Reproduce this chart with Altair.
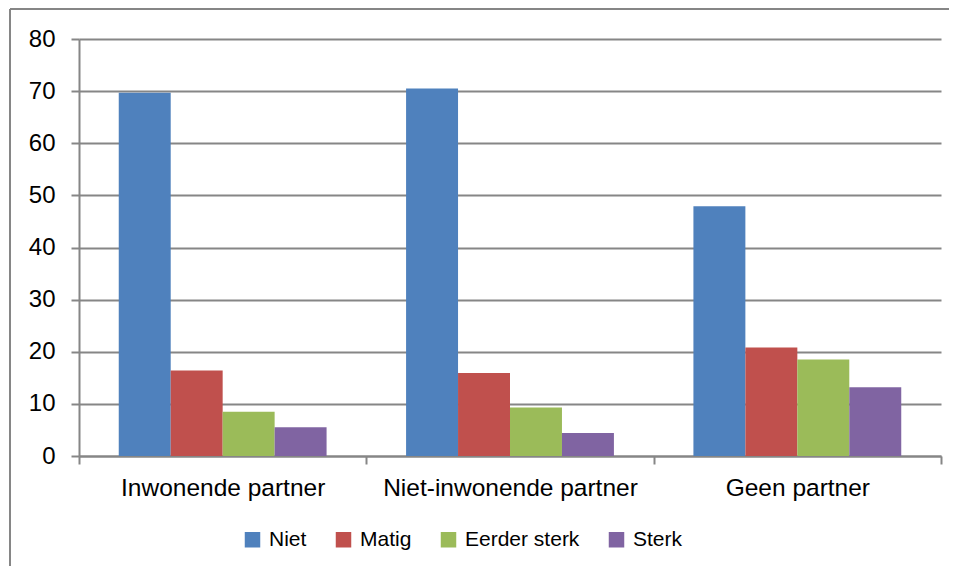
import altair as alt
import pandas as pd

groups = ["Inwonende partner", "Niet-inwonende partner", "Geen partner"]
levels = ["Niet", "Matig", "Eerder sterk", "Sterk"]
niet = [69.7, 70.5, 47.9]
matig = [16.4, 15.9, 20.8]
eerder_sterk = [8.5, 9.3, 18.5]
sterk = [5.5, 4.4, 13.2]
colors = ["#4F81BD", "#C0504D", "#9BBB59", "#8064A2"]
y_ticks = [0, 10, 20, 30, 40, 50, 60, 70, 80]

series = [niet, matig, eerder_sterk, sterk]
rows = []
for lvl, vals in zip(levels, series):
    for g, v in zip(groups, vals):
        rows.append({"groep": g, "niveau": lvl, "waarde": v})
df = pd.DataFrame(rows)

GRAY = "#868686"
FONT = "Liberation Sans"

bars = alt.Chart(df).mark_bar().encode(
    x=alt.X(
        "groep:N",
        sort=groups,
        scale=alt.Scale(paddingInner=0, paddingOuter=0),
        axis=alt.Axis(
            title=None, labelAngle=0, labelFontSize=24.5, labelColor="black",
            labelFont=FONT, labelLimit=400, tickBand="extent", tickSize=8,
            tickColor=GRAY, tickWidth=2, domainColor=GRAY, domainWidth=2,
            labelPadding=12,
        ),
    ),
    xOffset=alt.XOffset("niveau:N", sort=levels,
                        scale=alt.Scale(paddingInner=0, paddingOuter=0.765)),
    y=alt.Y(
        "waarde:Q",
        scale=alt.Scale(domain=[0, 80]),
        axis=alt.Axis(
            title=None, values=y_ticks, labelFontSize=24, labelColor="black",
            labelFont=FONT, tickSize=8, tickColor=GRAY, tickWidth=2,
            domainColor=GRAY, domainWidth=2, gridColor=GRAY, gridWidth=2,
            labelPadding=16,
        ),
    ),
    color=alt.Color(
        "niveau:N",
        sort=levels,
        scale=alt.Scale(domain=levels, range=colors),
        legend=alt.Legend(
            title=None, orient="none", direction="horizontal",
            legendX=163, legendY=490, symbolType="square", symbolSize=240,
            symbolStrokeWidth=0, labelFontSize=21, labelFont=FONT,
            labelColor="black", columnPadding=26, labelOffset=6,
        ),
    ),
)

frame_data = pd.DataFrame({"a": [0]})
frame_top = alt.Chart(frame_data).mark_rule(stroke=GRAY, strokeWidth=2).encode(
    x=alt.value(-69), x2=alt.value(2000), y=alt.value(-30)
)
frame_left = alt.Chart(frame_data).mark_rule(stroke=GRAY, strokeWidth=2).encode(
    x=alt.value(-69), y=alt.value(-30), y2=alt.value(2000)
)

chart = alt.layer(frame_top, frame_left, bars).properties(
    width=862,
    height=417,
    autosize=alt.AutoSizeParams(type="none"),
    padding={"left": 71, "top": 31, "right": 8, "bottom": 110},
).configure_view(strokeWidth=0)

chart.save("out.html", embed_options={"renderer": "svg", "actions": False})
